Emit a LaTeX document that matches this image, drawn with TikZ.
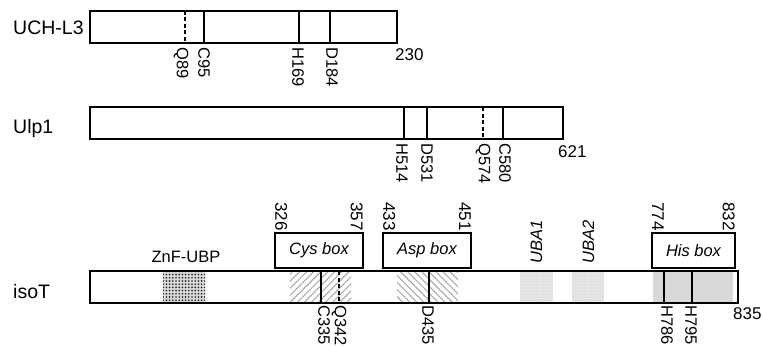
\documentclass[tikz,border=0pt]{standalone}
\usepackage{fontspec}
\setmainfont{Liberation Sans}
\usetikzlibrary{patterns.meta}
\begin{document}
\begin{tikzpicture}[x=1pt,y=-1pt,
  bar/.style={draw=black, line width=1.2pt, fill=white},
  site/.style={line width=1.1pt},
  dsite/.style={line width=1.1pt, dash pattern=on 4pt off 2.5pt},
  protname/.style={font=\fontsize{19.5}{20}\selectfont, anchor=base west, inner sep=0},
  endnum/.style={font=\fontsize{17}{18}\selectfont, anchor=base west, inner sep=0},
  res/.style={font=\fontsize{16.5}{18}\selectfont, inner sep=0, rotate=-90, anchor=west},
  topnum/.style={font=\fontsize{17}{18}\selectfont, inner sep=0, rotate=-90},
  boxlab/.style={draw, line width=1.1pt, fill=white, font=\fontsize{16.5}{18}\selectfont\itshape, inner sep=0, minimum height=35pt},
  uba/.style={font=\fontsize{16.5}{18}\selectfont\itshape, inner sep=0, rotate=90}]
\useasboundingbox (0,0) rectangle (762,345);

% ---------- UCH-L3 ----------
\node[protname] (nUCH) at (13,35) {UCH-L3};
\draw[bar] (90,11) rectangle (397,43);
\draw[dsite] (185,11) -- (185,43);
\draw[site] (204,11) -- (204,43);
\draw[site] (299,11) -- (299,43);
\draw[site] (330,11) -- (330,43);
\draw[line width=1.2pt] (90,11) rectangle (397,43);
\node[res] (q89) at (181,47) {Q89};
\node[res] (c95) at (204,47) {C95};
\node[res] (h169) at (298,47) {H169};
\node[res] (d184) at (332,47) {D184};
\node[endnum] (e230) at (395,60) {230};

% ---------- Ulp1 ----------
\node[protname] (nUlp) at (13,133) {Ulp1};
\draw[bar] (90,107) rectangle (563,139);
\draw[site] (404,107) -- (404,139);
\draw[site] (427,107) -- (427,139);
\draw[dsite] (483,107) -- (483,139);
\draw[site] (503,107) -- (503,139);
\draw[line width=1.2pt] (90,107) rectangle (563,139);
\node[res] (h514) at (402,143) {H514};
\node[res] (d531) at (427,143) {D531};
\node[res] (q574) at (483,143) {Q574};
\node[res] (c580) at (505,143) {C580};
\node[endnum] (e621) at (558,157) {621};

% ---------- isoT ----------
\node[protname] (nIso) at (13,298) {isoT};
\draw[bar] (90,271) rectangle (738,303);
% ZnF-UBP
\fill[gray!30] (163,272) rectangle (205,302);
\fill[pattern={Dots[distance=3.2pt, radius=0.9pt]}, pattern color=black!90] (163,272) rectangle (205,302);
% Cys hatch
\fill[pattern={Lines[angle=45, distance=5pt, line width=1.1pt]}, pattern color=gray!65] (290,272) rectangle (351,302);
% Asp hatch
\fill[pattern={Lines[angle=-45, distance=5pt, line width=1.1pt]}, pattern color=gray!65] (397,272) rectangle (458,302);
% UBA1, UBA2
\fill[gray!18] (520,272) rectangle (553,302);
\fill[pattern={Dots[distance=3pt, radius=0.6pt]}, pattern color=gray!45] (520,272) rectangle (553,302);
\fill[gray!18] (572,272) rectangle (604,302);
\fill[pattern={Dots[distance=3pt, radius=0.6pt]}, pattern color=gray!45] (572,272) rectangle (604,302);
% His region
\fill[gray!30] (653,272) rectangle (733,302);
% sites
\draw[site] (321,271) -- (321,303);
\draw[dsite] (339,271) -- (339,303);
\draw[site] (429,271) -- (429,303);
\draw[site] (664,271) -- (664,303);
\draw[site] (692,271) -- (692,303);
\draw[line width=1.2pt] (90,271) rectangle (738,303);

\node[font=\fontsize{16.5}{18}\selectfont, inner sep=0] (znf) at (186,256.5) {ZnF-UBP};

\node[boxlab, minimum width=88pt] (cys) at (319,250.5) {Cys box};
\node[boxlab, minimum width=88pt] (asp) at (427,250.5) {Asp box};
\node[boxlab, minimum width=83pt] (his) at (693.5,250.5) {His box};

\node[topnum, anchor=south east] (t326) at (275,231) {326};
\node[topnum, anchor=north east] (t357) at (363,231) {357};
\node[topnum, anchor=south east] (t433) at (383,231) {433};
\node[topnum, anchor=north east] (t451) at (471,231) {451};
\node[topnum, anchor=south east] (t774) at (652,231) {774};
\node[topnum, anchor=north east] (t832) at (735,231) {832};

\node[uba] (uba1) at (536.5,241.5) {UBA1};
\node[uba] (uba2) at (588.5,241.5) {UBA2};

\node[res] (c335) at (324,305) {C335};
\node[res] (q342) at (339,305) {Q342};
\node[res] (d435) at (428,305) {D435};
\node[res] (h786) at (667,305) {H786};
\node[res] (h795) at (691,305) {H795};
\node[endnum] (e835) at (733,319) {835};
\end{tikzpicture}
\end{document}
